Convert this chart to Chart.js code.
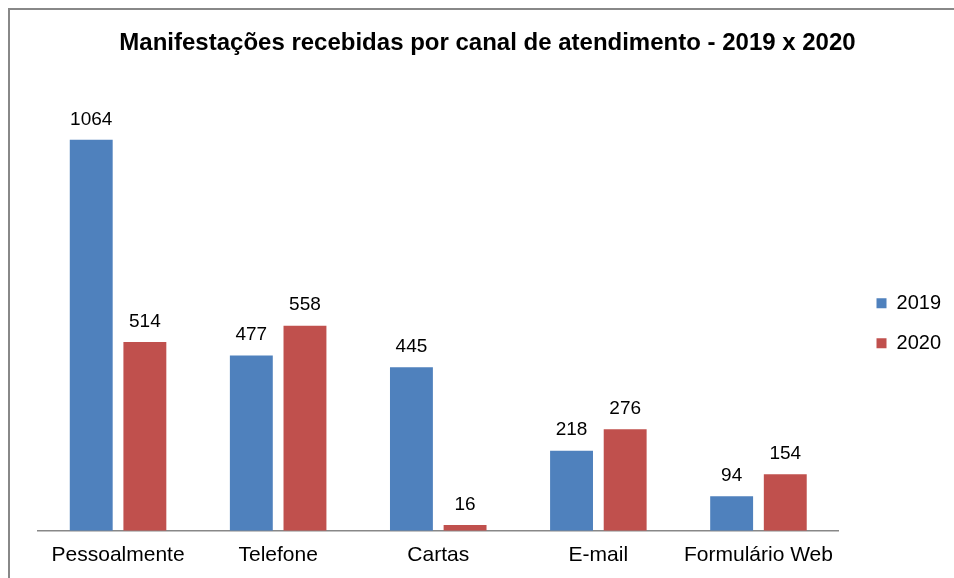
<!DOCTYPE html>
<html>
<head>
<meta charset="utf-8">
<script src="https://cdn.jsdelivr.net/npm/chart.js@4"></script>
<style>
  body { margin: 0; background: #fff; }
  #wrap { position: relative; width: 954px; height: 578px; overflow: hidden; }
  #frame { position: absolute; left: 8px; top: 8px; width: 1000px; height: 600px;
           border-left: 2px solid #888; border-top: 2px solid #888; }
  canvas { position: absolute; left: 0; top: 0; }
</style>
</head>
<body>
<div id="wrap">
  <div id="frame"></div>
  <canvas id="chart" width="954" height="578"></canvas>
</div>
<script>
const canais = ['Pessoalmente', 'Telefone', 'Cartas', 'E-mail', 'Formulário Web'];
const valores2019 = [1064, 477, 445, 218, 94];
const valores2020 = [514, 558, 16, 276, 154];
const anos = ['2019', '2020'];

// escreve o valor acima de cada barra
const rotulos = {
    id: 'rotulos',
    afterDatasetsDraw(chart) {
        const ctx = chart.ctx;
        ctx.save();
        ctx.font = '19px "Liberation Sans", Arial, sans-serif';
        ctx.fillStyle = '#000';
        ctx.textAlign = 'center';
        ctx.textBaseline = 'bottom';
        chart.data.datasets.forEach((ds, i) => {
            chart.getDatasetMeta(i).data.forEach((bar, j) => {
                ctx.fillText(ds.data[j], bar.x, bar.y - 11);
            });
        });
        ctx.restore();
    }
};

const ctx = document.getElementById('chart').getContext('2d');
new Chart(ctx, {
    type: 'bar',
    data: {
        labels: canais,
        datasets: [{
            label: anos[0],
            data: valores2019,
            backgroundColor: '#4F81BD'
        }, {
            label: anos[1],
            data: valores2020,
            backgroundColor: '#C0504D'
        }]
    },
    options: {
        responsive: false,
        animation: false,
        layout: { padding: { left: 24, right: 3, top: 0, bottom: -2 } },
        datasets: {
            bar: { categoryPercentage: 0.67, barPercentage: 0.8 }
        },
        scales: {
            x: {
                grid: { display: false, drawTicks: false },
                border: { display: true, color: '#888', width: 1.5 },
                ticks: {
                    padding: 12,
                    maxRotation: 0,
                    color: '#000',
                    font: { family: '"Liberation Sans", Arial, sans-serif', size: 21 }
                }
            },
            y: {
                position: 'right',
                min: 0,
                max: 1200,
                grid: { display: false },
                border: { display: false },
                ticks: { display: false },
                afterFit(scale) { scale.width = 18; }
            },
            margem: {
                position: 'left',
                grid: { display: false },
                border: { display: false },
                ticks: { display: false },
                afterFit(scale) { scale.width = 14; }
            }
        },
        plugins: {
            title: {
                display: true,
                text: 'Manifestações recebidas por canal de atendimento - 2019 x 2020',
                color: '#000',
                font: { family: '"Liberation Sans", Arial, sans-serif', size: 24, weight: 'bold' },
                padding: { top: 29, bottom: 32 }
            },
            legend: {
                position: 'right',
                fullSize: false,
                title: { display: true, text: '', font: { size: 10 }, padding: 7 },
                labels: {
                    boxWidth: 10,
                    boxHeight: 10,
                    padding: 20,
                    color: '#000',
                    font: { family: '"Liberation Sans", Arial, sans-serif', size: 20 }
                }
            },
            tooltip: { enabled: false }
        }
    },
    plugins: [rotulos]
});
</script>
</body>
</html>
